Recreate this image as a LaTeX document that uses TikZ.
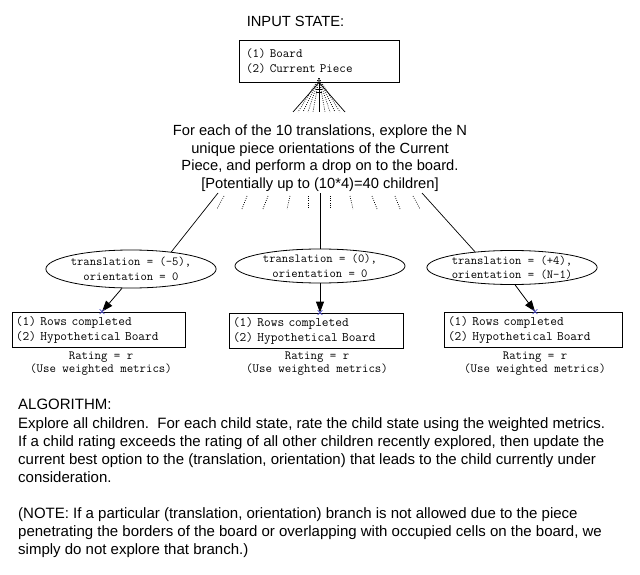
\documentclass[tikz,border=0pt]{standalone}
\usepackage{fontspec}
\setmainfont{Liberation Sans}
\usetikzlibrary{arrows.meta,shapes.geometric,shapes.misc}
\definecolor{markblue}{RGB}{80,80,200}
\begin{document}
\begin{tikzpicture}[x=1pt,y=-1pt,
  sans/.style={font=\fontsize{14.7}{17.5}\selectfont, inner sep=0pt},
  para/.style={font=\fontsize{15}{18}\selectfont, inner sep=0pt, anchor=base west},
  mono/.style={font=\ttfamily\fontsize{12.5}{14.5}\selectfont},
  statebox/.style={draw, line width=0.8pt, rectangle, align=left, inner sep=0pt},
  choice/.style={draw, line width=0.8pt, ellipse, inner sep=0pt, align=center,
     font=\ttfamily\fontsize{12.3}{14.5}\selectfont},
  link/.style={line width=0.7pt},
  arr/.style={line width=0.8pt, -{Triangle[length=11pt,width=8pt]}},
  xmark/.style={cross out, draw=markblue, minimum size=4pt, inner sep=0pt, line width=0.7pt},
  fandot/.style={line width=0.7pt, dash pattern=on 0.8pt off 1.4pt},
]
\useasboundingbox (0,0) rectangle (640,575);
\fill[white] (0,0) rectangle (640,575);

% title
\node[sans, anchor=base] (title) at (295.5,27) {INPUT STATE:};

% top box
\node[statebox, minimum width=160pt, minimum height=42pt, text width=146pt,
      font=\ttfamily\fontsize{12.7}{14.5}\selectfont] (tb) at (319,61)
      {(1) Board\\(2) Current Piece};

% fan below top box
\coordinate (ap) at (tb.south);
\draw[link] (ap) -- (293,112);
\draw[link] (ap) -- (345,112);
\draw[link] (ap) -- (319,112);
\foreach \xx in {298,303,308,313,325,330,335,340}
  \draw[fandot] ([yshift=4pt]ap) -- (\xx,112);
\draw[line width=0.6pt] (316,89) -- (322,89);
\draw[line width=0.6pt] (316,92) -- (322,92);

% description
\node[sans, anchor=base] (d1) at (320,136) {For each of the 10 translations, explore the N};
\node[sans, anchor=base] (d2) at (320,153.5) {unique piece orientations of the Current};
\node[sans, anchor=base] (d3) at (320,171) {Piece, and perform a drop on to the board.};
\node[sans, anchor=base] (d4) at (320,188.5) {[Potentially up to (10*4)=40 children]};

% children ellipses
\node[choice, minimum width=148pt, minimum height=38pt] (e1) at (131,269)
   {translation = (-5),\\orientation = 0};
\node[choice, minimum width=170pt, minimum height=34pt] (e2) at (320,266)
   {translation = (0),\\orientation = 0};
\node[choice, minimum width=160pt, minimum height=33pt] (e3) at (512,267.5)
   {translation = (+4),\\orientation = (N-1)};

% branch lines
\coordinate (s1) at (218,193);
\coordinate (s2) at (320,193);
\coordinate (s3) at (422,193);
\draw[link] (s1) -- (e1.23);
\draw[link] (s2) -- (e2.north);
\draw[link] (s3) -- (e3.157);
\foreach \xa/\xb in {224/217,247/242,268/263,290/287,308/308,330/330,350/353,372/377,395/400,413/420}
  \draw[fandot] (\xa,196) -- (\xb,209);

% result boxes
\node[statebox, minimum width=173pt, minimum height=35pt, text width=165pt,
      font=\ttfamily\fontsize{13}{15}\selectfont] (b1) at (98.5,329.5)
      {(1) Rows completed\\(2) Hypothetical Board};
\node[statebox, minimum width=174pt, minimum height=35pt, text width=166pt,
      font=\ttfamily\fontsize{13}{15}\selectfont] (b2) at (316,330.5)
      {(1) Rows completed\\(2) Hypothetical Board};
\node[statebox, minimum width=178pt, minimum height=35pt, text width=170pt,
      font=\ttfamily\fontsize{13}{15}\selectfont] (b3) at (533,329.5)
      {(1) Rows completed\\(2) Hypothetical Board};

% arrows
\draw[arr] (e1.-115) -- ([xshift=3.5pt]b1.north);
\draw[arr] (e2.south) -- (e2.south |- b2.north);
\draw[arr] (e3.-80) -- ([xshift=2pt]b3.north);
\node[xmark] (x1) at ([xshift=3.5pt]b1.north) {};
\node[xmark] (x2) at (e2.south |- b2.north) {};
\node[xmark] (x3) at ([xshift=2pt]b3.north) {};

% ratings
\node[mono, anchor=base, inner sep=0pt] (r1a) at (101,359) {Rating = r};
\node[mono, anchor=base, inner sep=0pt] (r1b) at (101,372.5) {(Use weighted metrics)};
\node[mono, anchor=base, inner sep=0pt] (r2a) at (317,359) {Rating = r};
\node[mono, anchor=base, inner sep=0pt] (r2b) at (317,372.5) {(Use weighted metrics)};
\node[mono, anchor=base, inner sep=0pt] (r3a) at (535,359) {Rating = r};
\node[mono, anchor=base, inner sep=0pt] (r3b) at (535,372.5) {(Use weighted metrics)};

% algorithm text
\node[para] (a1) at (18,409) {ALGORITHM:};
\node[para] (a2) at (18,428) {Explore all children.\ \ For each child state, rate the child state using the weighted metrics.};
\node[para] (a3) at (18,446) {If a child rating exceeds the rating of all other children recently explored, then update the};
\node[para] (a4) at (18,464) {current best option to the (translation, orientation) that leads to the child currently under};
\node[para] (a5) at (18,482) {consideration.};
\node[para] (n1) at (18,518) {(NOTE: If a particular (translation, orientation) branch is not allowed due to the piece};
\node[para] (n2) at (18,536) {penetrating the borders of the board or overlapping with occupied cells on the board, we};
\node[para] (n3) at (18,554) {simply do not explore that branch.)};
\end{tikzpicture}
\end{document}
